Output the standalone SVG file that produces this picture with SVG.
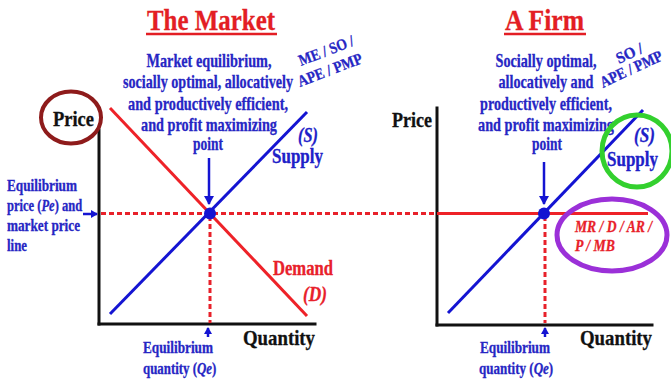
<svg xmlns="http://www.w3.org/2000/svg" width="671" height="380" viewBox="0 0 671 380">
  <style>
    text { font-family: "Liberation Serif", "Times New Roman", serif; font-weight: bold; fill: currentColor; stroke: currentColor; stroke-width: 0.3; }
    .title { font-size: 30px; color: #e31e24; }
    .note { font-size: 19.5px; color: #2626c4; text-anchor: middle; }
    .side { font-size: 16.5px; color: #2626c4; }
    .tag { font-size: 16px; color: #2626c4; }
    .axislbl { font-size: 21px; color: #111; }
    .curvelbl { font-size: 20px; color: #2020c8; }
    .demlbl { font-size: 20px; color: #e8212a; }
    .mrlbl { font-size: 16px; color: #e8212a; font-style: italic; }
    .it { font-style: italic; }
    .axis { stroke: #111; stroke-width: 3; fill: none; stroke-linecap: square; }
    .supply { stroke: #1414d2; stroke-width: 3; fill: none; }
    .demand { stroke: #ee2228; stroke-width: 3; fill: none; }
    .dash { stroke: #e8212a; stroke-width: 3; fill: none; stroke-dasharray: 5 3; }
    .ptr { stroke: #1414d2; stroke-width: 2.5; fill: none; }
    .ring { fill: none; }
  </style>
  <defs>
    <marker id="head" markerUnits="userSpaceOnUse" markerWidth="10" markerHeight="10" refX="8" refY="5" orient="auto">
      <path d="M0,0 L9,5 L0,10 Z" fill="#1414d2"/>
    </marker>
    <marker id="headSmall" markerUnits="userSpaceOnUse" markerWidth="8" markerHeight="8" refX="6" refY="4" orient="auto">
      <path d="M0,0 L7,4 L0,8 Z" fill="#1414d2"/>
    </marker>
  </defs>

  <rect width="671" height="380" fill="#ffffff"/>

  <!-- titles -->
  <g id="title-market">
    <text class="title" x="147" y="30" textLength="128" lengthAdjust="spacingAndGlyphs">The Market</text>
    <line x1="146" y1="34" x2="277" y2="34" stroke="#e31e24" stroke-width="2.5"/>
  </g>
  <g id="title-firm">
    <text class="title" x="505" y="30" textLength="79" lengthAdjust="spacingAndGlyphs">A Firm</text>
    <line x1="504" y1="34" x2="586" y2="34" stroke="#e31e24" stroke-width="2.5"/>
  </g>

  <!-- market axes -->
  <g id="market-axes">
    <line class="axis" x1="99" y1="130" x2="99" y2="324"/>
    <line class="axis" x1="99" y1="324" x2="315" y2="324"/>
    <text class="axislbl" x="53" y="126" textLength="41" lengthAdjust="spacingAndGlyphs">Price</text>
    <text class="axislbl" x="243" y="345" textLength="72" lengthAdjust="spacingAndGlyphs">Quantity</text>
  </g>

  <!-- firm axes -->
  <g id="firm-axes">
    <line class="axis" x1="437" y1="108" x2="437" y2="325"/>
    <line class="axis" x1="437" y1="325" x2="652" y2="325"/>
    <text class="axislbl" x="392" y="127" textLength="40" lengthAdjust="spacingAndGlyphs">Price</text>
    <text class="axislbl" x="580" y="345" textLength="72" lengthAdjust="spacingAndGlyphs">Quantity</text>
  </g>

  <!-- curves, price/quantity lines and pointers -->
  <g id="connectors">
    <line class="demand" x1="110" y1="108" x2="307" y2="316"/>
    <line class="supply" x1="110" y1="314" x2="307" y2="112"/>
    <line class="supply" x1="448" y1="313" x2="643" y2="110"/>
    <line class="dash" x1="101" y1="213.5" x2="437" y2="213.5"/>
    <line class="demand" x1="437" y1="213.5" x2="648" y2="213.5"/>
    <line class="dash" x1="210" y1="216" x2="210" y2="323"/>
    <line class="dash" x1="545" y1="216" x2="545" y2="323"/>
    <line class="ptr" x1="209" y1="158" x2="209" y2="204" marker-end="url(#head)"/>
    <line class="ptr" x1="544" y1="162" x2="544" y2="204" marker-end="url(#head)"/>
    <line class="ptr" x1="83" y1="214" x2="97" y2="214" marker-end="url(#headSmall)"/>
    <line class="ptr" x1="208" y1="337" x2="208" y2="328" marker-end="url(#headSmall)"/>
    <line class="ptr" x1="545" y1="337" x2="545" y2="328" marker-end="url(#headSmall)"/>
  </g>

  <!-- equilibrium points -->
  <g id="market-equilibrium">
    <circle cx="210" cy="213.5" r="6" fill="#1414d2"/>
  </g>
  <g id="firm-equilibrium">
    <circle cx="544" cy="213.5" r="6" fill="#1414d2"/>
  </g>

  <!-- market notes -->
  <g id="market-note">
    <text class="note" x="209" y="67" textLength="125" lengthAdjust="spacingAndGlyphs">Market equilibrium,</text>
    <text class="note" x="208" y="88" textLength="170" lengthAdjust="spacingAndGlyphs">socially optimal, allocatively</text>
    <text class="note" x="208" y="110" textLength="160" lengthAdjust="spacingAndGlyphs">and productively efficient,</text>
    <text class="note" x="209" y="131" textLength="136" lengthAdjust="spacingAndGlyphs">and profit maximizing</text>
    <text class="note" x="208" y="150" textLength="30" lengthAdjust="spacingAndGlyphs">point</text>
  </g>
  <g id="market-tag">
    <text class="tag" transform="translate(301 66) rotate(-21)" textLength="58" lengthAdjust="spacingAndGlyphs">ME / SO /</text>
    <text class="tag" transform="translate(300 87) rotate(-21)" textLength="68" lengthAdjust="spacingAndGlyphs">APE / PMP</text>
  </g>
  <g id="market-supply-label">
    <text class="curvelbl it" x="298" y="142" textLength="20" lengthAdjust="spacingAndGlyphs">(S)</text>
    <text class="curvelbl" x="272" y="163" textLength="51" lengthAdjust="spacingAndGlyphs">Supply</text>
  </g>
  <g id="market-demand-label">
    <text class="demlbl" x="273" y="275" textLength="60" lengthAdjust="spacingAndGlyphs">Demand</text>
    <text class="demlbl it" x="303" y="301" textLength="24" lengthAdjust="spacingAndGlyphs">(D)</text>
  </g>
  <g id="market-price-label">
    <text class="side" x="7" y="191" textLength="70" lengthAdjust="spacingAndGlyphs">Equilibrium</text>
    <text class="side" transform="translate(7 211) scale(0.76 1)">price (<tspan class="it">Pe</tspan>) and</text>
    <text class="side" x="7" y="231" textLength="73" lengthAdjust="spacingAndGlyphs">market price</text>
    <text class="side" x="7" y="251" textLength="20" lengthAdjust="spacingAndGlyphs">line</text>
  </g>
  <g id="market-quantity-label">
    <text class="side" x="143" y="353" textLength="70" lengthAdjust="spacingAndGlyphs">Equilibrium</text>
    <text class="side" transform="translate(143 374) scale(0.78 1)">quantity (<tspan class="it">Qe</tspan>)</text>
  </g>

  <!-- firm notes -->
  <g id="firm-note">
    <text class="note" x="546" y="67" textLength="101" lengthAdjust="spacingAndGlyphs">Socially optimal,</text>
    <text class="note" x="546" y="88" textLength="95" lengthAdjust="spacingAndGlyphs">allocatively and</text>
    <text class="note" x="546" y="110" textLength="132" lengthAdjust="spacingAndGlyphs">productively efficient,</text>
    <text class="note" x="546" y="131" textLength="136" lengthAdjust="spacingAndGlyphs">and profit maximizing</text>
    <text class="note" x="547" y="150" textLength="30" lengthAdjust="spacingAndGlyphs">point</text>
  </g>
  <g id="firm-tag">
    <text class="tag" transform="translate(619 64) rotate(-25)" textLength="28" lengthAdjust="spacingAndGlyphs">SO /</text>
    <text class="tag" transform="translate(603 88) rotate(-25)" textLength="67" lengthAdjust="spacingAndGlyphs">APE / PMP</text>
  </g>
  <g id="firm-supply-label">
    <text class="curvelbl it" x="634" y="142" textLength="21" lengthAdjust="spacingAndGlyphs">(S)</text>
    <text class="curvelbl" x="607" y="166" textLength="51" lengthAdjust="spacingAndGlyphs">Supply</text>
  </g>
  <g id="firm-mr-label">
    <text class="mrlbl" x="575" y="232" textLength="77" lengthAdjust="spacingAndGlyphs">MR / D / AR /</text>
    <text class="mrlbl" x="575" y="251" textLength="40" lengthAdjust="spacingAndGlyphs">P / MB</text>
  </g>
  <g id="firm-quantity-label">
    <text class="side" x="480" y="353" textLength="70" lengthAdjust="spacingAndGlyphs">Equilibrium</text>
    <text class="side" transform="translate(479 374) scale(0.79 1)">quantity (<tspan class="it">Qe</tspan>)</text>
  </g>

  <!-- highlight rings -->
  <g id="price-ring">
    <ellipse class="ring" cx="71" cy="117.5" rx="30" ry="26" stroke="#8e1b1b" stroke-width="4"/>
  </g>
  <g id="supply-ring">
    <ellipse class="ring" cx="637" cy="151" rx="35" ry="36" stroke="#33d02e" stroke-width="5"/>
  </g>
  <g id="mr-ring">
    <ellipse class="ring" cx="612" cy="235" rx="55" ry="36" stroke="#9b30d8" stroke-width="5"/>
  </g>
</svg>
